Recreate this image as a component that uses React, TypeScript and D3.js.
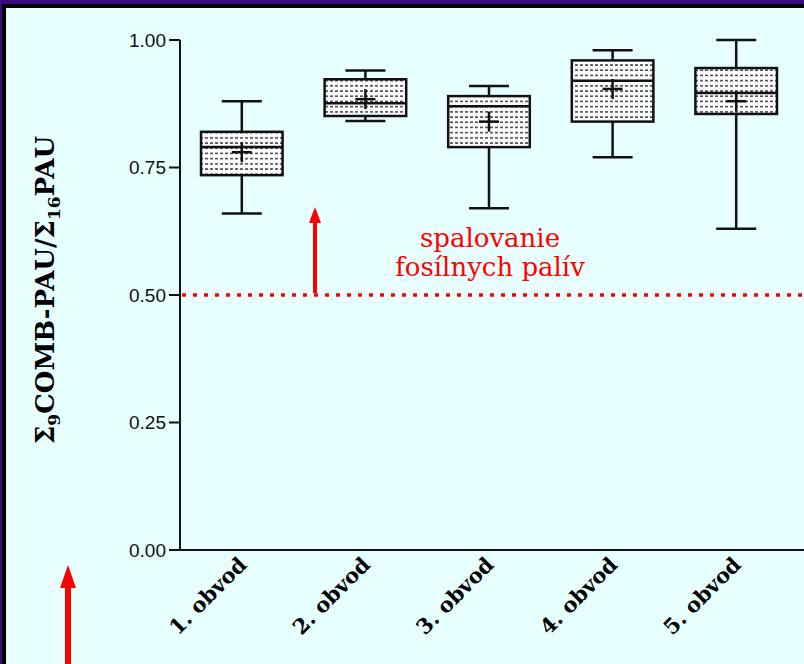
import React from "react";
import * as d3 from "d3";

// Box summary per district: whisker min, Q1, median, Q3, whisker max, mean
const categories = ["1. obvod", "2. obvod", "3. obvod", "4. obvod", "5. obvod"];
const whiskerLow = [0.66, 0.841, 0.67, 0.77, 0.63];
const q1 = [0.735, 0.851, 0.79, 0.84, 0.855];
const median = [0.79, 0.876, 0.87, 0.92, 0.896];
const q3 = [0.82, 0.923, 0.89, 0.96, 0.945];
const whiskerHigh = [0.88, 0.94, 0.91, 0.98, 1.0];
const means = [0.78, 0.884, 0.84, 0.904, 0.88];
const yTicks = [0, 0.25, 0.5, 0.75, 1.0];
const threshold = 0.5;
const thresholdLabel = ["spalovanie", "fosílnych palív"];

const W = 804;
const H = 664;

export default function App() {
  const x = d3.scaleBand<string>().domain(categories).range([180, 798]).paddingInner(0.34).paddingOuter(0.17);
  const y = d3.scaleLinear().domain([0, 1]).range([550, 40]);
  const bw = x.bandwidth();
  const xEnd = 804;
  const capW = 40;

  return (
    <svg width={W} height={H} style={{ position: "absolute", left: 0, top: 0, display: "block" }}>
      <defs>
        <pattern id="dots" width="5" height="5.2" patternUnits="userSpaceOnUse">
          <rect width="5" height="5.2" fill="#ffffff" />
          <rect x="0" y="2" width="3" height="1.3" fill="#222" />
        </pattern>
      </defs>
      {/* frame */}
      <rect x={0} y={0} width={W} height={H} fill="#3a0a80" />
      <rect x={2} y={4} width={W - 2} height={H - 4} fill="#000" />
      <rect x={6} y={8} width={W - 6} height={H - 8} fill="#e8ffff" />

      {/* threshold line */}
      <line x1={182} x2={xEnd} y1={y(threshold)} y2={y(threshold)} stroke="#ff0000" strokeWidth={3.5} strokeDasharray="4 7" />

      {/* axes */}
      <line x1={180} x2={180} y1={y(1)} y2={y(0)} stroke="#111" strokeWidth={2} />
      <line x1={180} x2={xEnd} y1={y(0)} y2={y(0)} stroke="#111" strokeWidth={2} />
      {yTicks.map((t) => (
        <g key={t}>
          <line x1={169} x2={180} y1={y(t)} y2={y(t)} stroke="#111" strokeWidth={2} />
          <text x={166} y={y(t)} dy="0.35em" textAnchor="end" fontFamily="'Liberation Sans', Arial, sans-serif" fontSize={19} fill="#111">
            {d3.format(".2f")(t)}
          </text>
        </g>
      ))}

      {/* boxes */}
      {categories.map((c, i) => {
        const cx = (x(c) as number) + bw / 2;
        const x0 = x(c) as number;
        return (
          <g key={c} stroke="#111" strokeWidth={2.5} fill="none">
            <line x1={cx} x2={cx} y1={y(whiskerHigh[i])} y2={y(q3[i])} />
            <line x1={cx} x2={cx} y1={y(q1[i])} y2={y(whiskerLow[i])} />
            <line x1={cx - capW / 2} x2={cx + capW / 2} y1={y(whiskerHigh[i])} y2={y(whiskerHigh[i])} />
            <line x1={cx - capW / 2} x2={cx + capW / 2} y1={y(whiskerLow[i])} y2={y(whiskerLow[i])} />
            <rect x={x0} y={y(q3[i])} width={bw} height={y(q1[i]) - y(q3[i])} fill="url(#dots)" />
            <line x1={x0} x2={x0 + bw} y1={y(median[i])} y2={y(median[i])} />
            <line x1={cx - 10} x2={cx + 10} y1={y(means[i])} y2={y(means[i])} />
            <line x1={cx} x2={cx} y1={y(means[i]) - 10} y2={y(means[i]) + 10} />
          </g>
        );
      })}

      {/* x labels */}
      {categories.map((c) => {
        const cx = (x(c) as number) + bw / 2;
        return (
          <text key={c} transform={`translate(${cx + 6},${566}) rotate(-45)`} textAnchor="end"
            fontFamily="'DejaVu Serif', serif" fontWeight="bold" fontSize={21} fill="#000">
            {c}
          </text>
        );
      })}

      {/* y title */}
      <text transform="translate(54,290) rotate(-90)" textAnchor="middle" fontFamily="'DejaVu Serif', serif" fontWeight="bold" fontSize={26} fill="#000">
        <tspan>Σ</tspan>
        <tspan fontSize={17} dy={6}>9</tspan>
        <tspan dy={-6}>COMB-PAU/Σ</tspan>
        <tspan fontSize={17} dy={6}>16</tspan>
        <tspan dy={-6}>PAU</tspan>
      </text>

      {/* annotation */}
      {thresholdLabel.map((s, i) => (
        <text key={s} x={490} y={247 + i * 29} textAnchor="middle" fontFamily="'DejaVu Serif', serif" fontSize={26} fill="#ff0000">
          {s}
        </text>
      ))}
      <line x1={315} x2={315} y1={y(threshold) - 2} y2={222} stroke="#ff0000" strokeWidth={4} />
      <path d="M315,207 L309,223 L321,223 Z" fill="#ff0000" />
      <line x1={68} x2={68} y1={H} y2={580} stroke="#ff0000" strokeWidth={6} />
      <path d="M68,565 L60,588 L76,588 Z" fill="#ff0000" />
    </svg>
  );
}
